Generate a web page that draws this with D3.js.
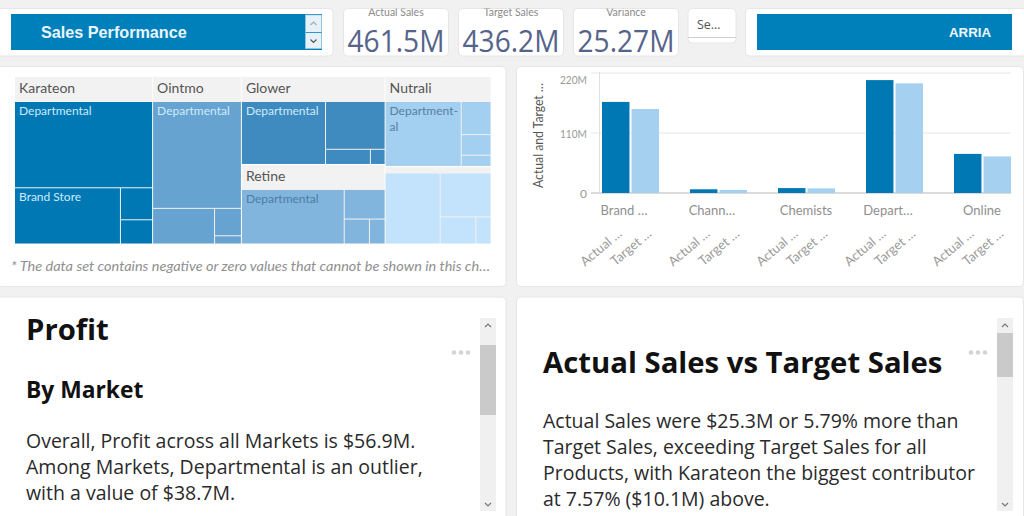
<!DOCTYPE html>
<html><head><meta charset="utf-8">
<script src="https://cdnjs.cloudflare.com/ajax/libs/d3/7.8.5/d3.min.js"></script>
<style>html,body{margin:0;padding:0;background:#f1f1f1;overflow:hidden}svg{display:block}</style>
</head><body><svg id="c" width="1024" height="516"></svg>
<script>
// ---------- data ----------
const kpiLabels = ["Actual Sales", "Target Sales", "Variance"];
const kpiValues = ["461.5M", "436.2M", "25.27M"];
const products = ["Karateon", "Ointmo", "Glower", "Retine", "Nutrali", ""];
const productColumns = [[0], [1], [2, 3], [4, 5]];
const karateonSales = [81, 40.5, 7.0, 5.3];
const ointmoSales = [64.5, 15.0, 5.0, 1.5];
const glowerSales = [42.8, 23.0, 5.5, 1.8];
const retineSales = [47.3, 10.2, 5.3, 3.3];
const nutraliSales = [39.6, 7.9, 4.9, 2.7];
const otherSales = [24.7, 14.1, 6.1, 2.6];
const productSales = [karateonSales, ointmoSales, glowerSales, retineSales, nutraliSales, otherSales];
const productSplits = ["yxy", "yxy", "xyx", "xyx", "xyy", "xyx"];
const marketLabels = [["Departmental", "Brand Store"], ["Departmental"], ["Departmental"], ["Departmental"], ["Department-\nal"], []];
const productColors = ["#0078b3", "#67a3d0", "#3f8bbf", "#82b5dd", "#a3cff0", "#c2e3fb"];
const labelColors = ["#cdeafc", "#cdeafc", "#cdeafc", "#4d7ca6", "#55809f", "#55809f"];
const markets = ["Brand …", "Chann…", "Chemists", "Depart…", "Online"];
const measures = ["Actual …", "Target …"];
const actualSales = [167, 6.8, 9, 207, 71.7];
const targetSales = [154, 5.7, 8.5, 201, 67];
const yTicks = [0, 110, 220];
const yTickLabels = ["0", "110M", "220M"];
const footnote = "* The data set contains negative or zero values that cannot be shown in this ch…";
const leftText = ["Overall, Profit across all Markets is $56.9M.", "Among Markets, Departmental is an outlier,", "with a value of $38.7M."];
const rightText = ["Actual Sales were $25.3M or 5.79% more than", "Target Sales, exceeding Target Sales for all", "Products, with Karateon the biggest contributor", "at 7.57% ($10.1M) above."];

// ---------- helpers ----------
const svg = d3.select("#c");
const SANS = "'Open Sans'", LAT = "Lato";
function card(x, y, w, h) {
  svg.append("rect").attr("x", x).attr("y", y).attr("width", w).attr("height", h).attr("rx", 4)
    .attr("fill", "#fff").attr("stroke", "#e6e6e6").attr("stroke-width", 1);
}
function text(parent, x, y, s, font, size, color, opts = {}) {
  const t = parent.append("text").attr("x", x).attr("y", y).text(s)
    .attr("font-family", font).attr("font-size", size).attr("fill", color)
    .attr("font-weight", opts.weight || 400).attr("text-anchor", opts.anchor || "start");
  if (opts.italic) t.attr("font-style", "italic");
  if (opts.len) t.attr("textLength", opts.len).attr("lengthAdjust", "spacingAndGlyphs");
  if (opts.clip) t.attr("clip-path", opts.clip);
  return t;
}
function scrollbar(x, top, bottom, t0, t1) {
  const w = 16;
  svg.append("rect").attr("x", x).attr("y", top).attr("width", w).attr("height", bottom - top).attr("fill", "#f0f0f0");
  svg.append("rect").attr("x", x).attr("y", t0).attr("width", w).attr("height", t1 - t0).attr("fill", "#cacaca");
  const cx = x + w / 2;
  svg.append("path").attr("d", `M${cx - 3},${top + 9}L${cx},${top + 6}L${cx + 3},${top + 9}`).attr("fill", "none").attr("stroke", "#777").attr("stroke-width", 1.2);
  svg.append("path").attr("d", `M${cx - 3},${bottom - 8}L${cx},${bottom - 5}L${cx + 3},${bottom - 8}`).attr("fill", "none").attr("stroke", "#777").attr("stroke-width", 1.2);
}
function dots(x, y) {
  [0, 7, 14].forEach(d => svg.append("circle").attr("cx", x + d).attr("cy", y).attr("r", 2.3).attr("fill", "#d4d4d4"));
}

// ---------- top row ----------
card(-3, 8.5, 336, 47.5);
svg.append("rect").attr("x", 11).attr("y", 14).attr("width", 311).attr("height", 36).attr("fill", "#0080bb");
text(svg, 41, 37.5, "Sales Performance", "'Liberation Sans'", 16.2, "#e9f5fb", { weight: 700 });
svg.append("rect").attr("x", 305.5).attr("y", 15).attr("width", 16).attr("height", 33.5).attr("fill", "#e6f2f8").attr("stroke", "#9fcbe0").attr("stroke-width", .7);
svg.append("line").attr("x1", 305.5).attr("x2", 321.5).attr("y1", 32.5).attr("y2", 32.5).attr("stroke", "#0080bb").attr("stroke-width", .8);
svg.append("path").attr("d", "M310.5,25L313.5,22L316.5,25").attr("fill", "none").attr("stroke", "#aaa").attr("stroke-width", 1.2);
svg.append("path").attr("d", "M310.5,39.5L313.5,42.5L316.5,39.5").attr("fill", "none").attr("stroke", "#555").attr("stroke-width", 1.2);

const kpiX = [343.5, 458.5, 573.5];
const kpiW = [105, 105, 105];
const defs = svg.append("defs");
defs.append("clipPath").attr("id", "kpiClip").append("rect").attr("x", 0).attr("y", 8.5).attr("width", 1024).attr("height", 48);
kpiValues.forEach((v, i) => {
  card(kpiX[i], 8.5, kpiW[i], 47.5);
  text(svg, kpiX[i] + kpiW[i] / 2, 16, kpiLabels[i], LAT, 10.5, "#8a8a8a", { anchor: "middle", clip: "url(#kpiClip)" });
  text(svg, kpiX[i] + kpiW[i] / 2, 52, v, SANS, 31.5, "#56648c", { anchor: "middle", len: 97 });
});
card(688, 8.5, 48, 34.5);
svg.append("line").attr("x1", 688).attr("x2", 736).attr("y1", 37.5).attr("y2", 37.5).attr("stroke", "#cfcfcf");
text(svg, 697, 29, "Se…", SANS, 12.5, "#555");
card(745.5, 8.5, 281, 47.5);
svg.append("rect").attr("x", 757).attr("y", 14).attr("width", 255).attr("height", 36).attr("fill", "#0080bb");
text(svg, 949, 37, "ARRIA", "'Liberation Sans'", 13.5, "#eef7fb", { weight: 700, len: 42 });

// ---------- panels ----------
card(-3, 66.5, 509, 220);
card(516.5, 66.5, 507, 220);
card(-3, 297, 509, 225);
card(516.5, 297, 507, 225);

// ---------- treemap ----------
function nest(vals, dirs, pi, k = 0) {
  if (vals.length === 1) return { value: vals[0], leaf: true, pi, idx: k };
  return {
    dir: dirs[0],
    children: [
      { value: vals[0], leaf: true, pi, idx: k },
      nest(vals.slice(1), dirs.slice(1), pi, k + 1)
    ]
  };
}
const treeData = {
  dir: "x",
  children: productColumns.map(col => ({
    dir: "y",
    children: col.map(pi => {
      const n = nest(productSales[pi], productSplits[pi], pi);
      n.header = products[pi] ? 25 : 6.5;
      n.pi = pi; n.isProduct = true;
      return n;
    })
  }))
};
const tile = (node, x0, y0, x1, y1) => (node.data.dir === "x" ? d3.treemapDice : d3.treemapSlice)(node, x0, y0, x1, y1);
const root = d3.hierarchy(treeData).sum(d => d.leaf ? d.value : 0);
d3.treemap().size([475.5, 166.5]).tile(tile).paddingInner(1)
  .paddingTop(d => d.data.header || 0).round(false)(root);

const tm = svg.append("g").attr("transform", "translate(15,77)");
const prods = root.descendants().filter(d => d.data.isProduct);
tm.selectAll("rect.h").data(prods).join("rect").attr("class", "h")
  .attr("x", d => d.x0).attr("y", d => d.y0).attr("width", d => d.x1 - d.x0).attr("height", d => d.y1 - d.y0)
  .attr("fill", "#f2f2f2");
const leaves = root.leaves();
tm.selectAll("rect.l").data(leaves).join("rect").attr("class", "l")
  .attr("x", d => d.x0).attr("y", d => d.y0).attr("width", d => d.x1 - d.x0).attr("height", d => d.y1 - d.y0)
  .attr("fill", d => productColors[d.data.pi]);
prods.forEach(d => {
  if (products[d.data.pi]) text(tm, d.x0 + 4, d.y0 + 16, products[d.data.pi], LAT, 14, "#555");
});
leaves.forEach(d => {
  const lab = marketLabels[d.data.pi][d.data.idx];
  if (!lab) return;
  lab.split("\n").forEach((s, i) => text(tm, d.x0 + 4, d.y0 + 13 + i * 16, s, LAT, 12, labelColors[d.data.pi]));
});
text(svg, 11, 270.5, footnote, LAT, 13, "#8f8f8f", { italic: true, len: 479 });

// ---------- bar chart ----------
const x = d3.scaleBand().domain(markets).range([586, 1026]);
const xm = d3.scaleBand().domain(measures).range([16, 73]).paddingInner(.07);
const y = d3.scaleLinear().domain([0, 220]).range([193, 73]);
const barColors = ["#0078b3", "#a5d0ef"];
const grid = svg.append("g");
grid.selectAll("line").data(yTicks).join("line")
  .attr("x1", 591).attr("x2", 1011).attr("y1", d => y(d)).attr("y2", d => y(d))
  .attr("stroke", d => d === 0 ? "#cfcfcf" : "#e6e6e6").attr("stroke-width", d => d === 0 ? 1.5 : 1);
grid.append("line").attr("x1", 599.5).attr("x2", 599.5).attr("y1", 72).attr("y2", 193).attr("stroke", "#e0e0e0");
[actualSales, targetSales].forEach((series, si) => {
  svg.append("g").selectAll("rect").data(series).join("rect")
    .attr("x", (d, i) => x(markets[i]) + xm(measures[si]))
    .attr("width", xm.bandwidth())
    .attr("y", d => y(d)).attr("height", d => y(0) - y(d))
    .attr("fill", barColors[si]);
});
yTicks.forEach((t, i) => {
  const py = t === 220 ? y(t) + 6.5 : y(t);
  text(svg, 587, py + 4.5, yTickLabels[i], LAT, 12, "#999", { anchor: "end", len: t ? 27 : 0 });
});
text(svg, 0, 0, "Actual and Target …", LAT, 13, "#555", { anchor: "middle", len: 105 })
  .attr("transform", "translate(542.5,135.5) rotate(-90)");
markets.forEach(m => {
  const c = x(m) + x.bandwidth() / 2;
  text(svg, c + (m.endsWith("…") ? -6 : 0), 215, m, LAT, 13, "#8f8f8f", { anchor: "middle" });
  measures.forEach(k => {
    const bx = c - 44 + xm(k) + xm.bandwidth() / 2;
    text(svg, 0, 0, k, LAT, 13, "#999", { anchor: "end" })
      .attr("transform", `translate(${bx + 7},${235}) rotate(-40)`);
  });
});

// ---------- narrative panels ----------
text(svg, 26, 340, "Profit", SANS, 29.3, "#111", { weight: 700 });
text(svg, 26, 398, "By Market", SANS, 22.8, "#111", { weight: 700 });
leftText.forEach((s, i) => text(svg, 26, 448 + i * 26, s, SANS, 19.5, "#2a2a2a"));
scrollbar(480, 318, 511, 345, 415);
dots(454, 352.5);
text(svg, 543, 373, "Actual Sales vs Target Sales", SANS, 29.3, "#111", { weight: 700 });
rightText.forEach((s, i) => text(svg, 543, 428 + i * 26, s, SANS, 19.5, "#2a2a2a"));
scrollbar(997, 318, 511, 333, 377);
dots(971, 352.5);
</script></body></html>
